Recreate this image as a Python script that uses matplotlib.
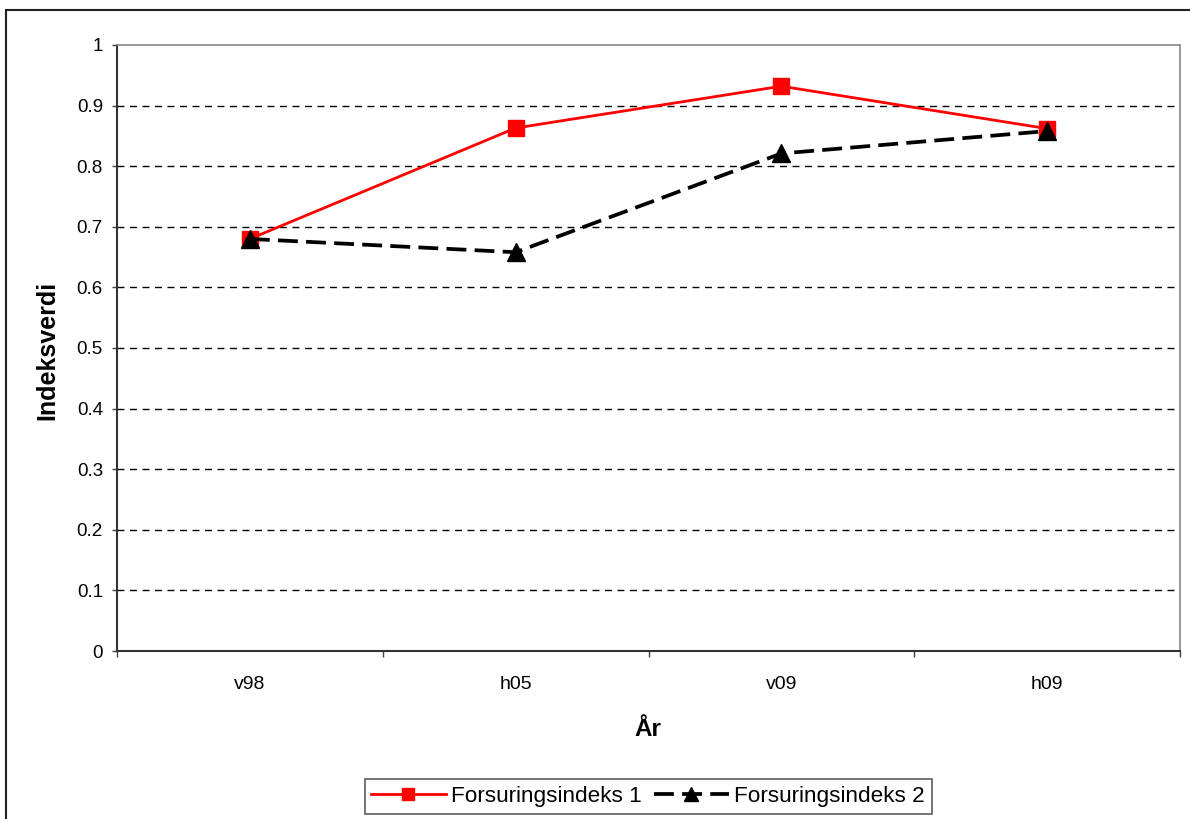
import matplotlib
matplotlib.use("Agg")
from matplotlib import pyplot as plt
from matplotlib.patches import Rectangle

plt.rcParams['font.family'] = ['Liberation Sans', 'DejaVu Sans']

years = ['v98', 'h05', 'v09', 'h09']
index1 = [0.68, 0.863, 0.932, 0.862]
index2 = [0.68, 0.658, 0.821, 0.858]
yticks = [0, 0.1, 0.2, 0.3, 0.4, 0.5, 0.6, 0.7, 0.8, 0.9, 1]

W, H = 1190, 819
fig = plt.figure(figsize=(W / 100, H / 100), dpi=100)

# outer chart frame
fig.patches.append(Rectangle((6 / W, -0.01), 1.2, (H - 10) / H + 0.01,
                             transform=fig.transFigure, fill=False,
                             edgecolor='#222222', linewidth=1.5))

left, right, top, bottom = 117, 1180, 45, 651
ax = fig.add_axes([left / W, 1 - bottom / H, (right - left) / W, (bottom - top) / H])

x = list(range(len(years)))
ax.plot(x, index1, color='#ff0000', linewidth=2.0, marker='s', markersize=11,
        markeredgecolor='#ff0000', label='Forsuringsindeks 1', zorder=3)
ax.plot(x, index2, color='black', linewidth=2.7, dashes=(5.3, 2.2), marker='^',
        markersize=13, label='Forsuringsindeks 2', zorder=4)

ax.set_xlim(-0.5, len(years) - 0.5)
ax.set_ylim(0, 1)
ax.set_yticks(yticks)
ax.set_yticklabels(['%g' % v for v in yticks])
ax.set_xticks(x)
ax.set_xticklabels(years)
ax.set_xticks([i - 0.5 for i in range(len(years) + 1)], minor=True)
ax.tick_params(axis='x', which='major', length=0, pad=18, labelsize=14)
ax.tick_params(axis='x', which='minor', length=4, width=1, color='#444444', direction='out')
ax.tick_params(axis='y', length=3.6, width=1, color='#444444', pad=6.5, labelsize=13.5)

for v in yticks[1:-1]:
    ax.axhline(v, color='black', linewidth=1.0, dashes=(5, 4), zorder=1)

for side in ['top', 'right']:
    ax.spines[side].set_color('#888888')
    ax.spines[side].set_linewidth(1.2)
for side in ['left', 'bottom']:
    ax.spines[side].set_color('#333333')
    ax.spines[side].set_linewidth(1.5)

fig.text(47 / W, 1 - 350 / H, 'Indeksverdi', fontsize=18, fontweight='bold',
         rotation=90, ha='center', va='center')
fig.text(648 / W, 1 - 729 / H, 'År', fontsize=17.5, fontweight='bold',
         ha='center', va='center')

leg = fig.legend(loc='center', bbox_to_anchor=(648 / W, 1 - 796.5 / H), ncol=2,
                 fontsize=16.2, frameon=True, fancybox=False, handlelength=3.3,
                 columnspacing=0.55, handletextpad=0.25, borderpad=0.3,
                 borderaxespad=0, markerscale=0.75)
leg.get_frame().set_edgecolor('#333333')
leg.get_frame().set_linewidth(1.2)

fig.savefig('out.png', dpi=100)
